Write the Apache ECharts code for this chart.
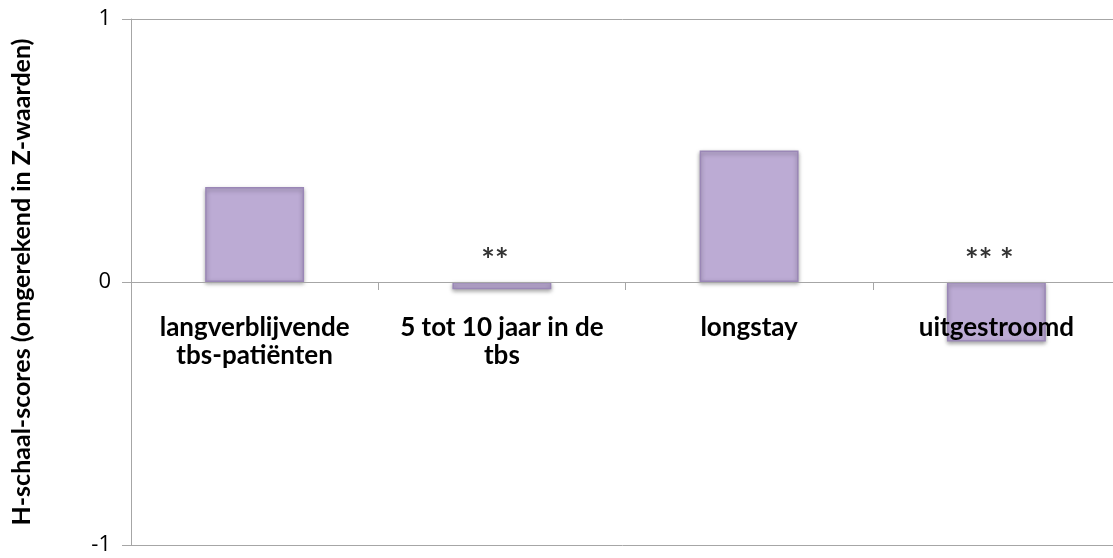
<!DOCTYPE html>
<html>
<head>
<meta charset="utf-8">
<script src="https://cdn.jsdelivr.net/npm/echarts@6/dist/echarts.min.js"></script>
<style>html,body{margin:0;padding:0;background:#fff}#c{width:1113px;height:558px}</style>
</head>
<body>
<div id="c"></div>
<script>
const categories = ['langverblijvende\ntbs-patiënten', '5 tot 10 jaar in de\ntbs', 'longstay', 'uitgestroomd'];
const values = [0.361, -0.028, 0.500, -0.226];
const annotations = ['', '**', '', '** *'];
const yTicks = [-1, 0, 1];

const chart = echarts.init(document.getElementById('c'));
chart.setOption({
  animation: false,
  grid: {left: 131, top: 19, width: 989, bottom: 13, containLabel: false, outerBoundsMode: 'none'},
  xAxis: {
    type: 'category',
    data: categories,
    z: 10,
    axisLine: {onZero: true, lineStyle: {color: '#a6a6a6', width: 1}},
    axisTick: {show: true, length: 8, lineStyle: {color: '#a6a6a6'}},
    axisLabel: {
      interval: 0, margin: -231, color: '#000', fontFamily: 'Lato', fontWeight: 'bold',
      fontSize: 26, lineHeight: 28
    }
  },
  yAxis: {
    type: 'value', min: -1, max: 1, interval: 1,
    name: 'H-schaal-scores (omgerekend in Z-waarden)',
    nameLocation: 'middle', nameRotate: 90, nameGap: 97,
    nameTextStyle: {fontFamily: 'Lato', fontWeight: 'bold', fontSize: 25, color: '#000'},
    axisLine: {show: true, lineStyle: {color: '#a6a6a6'}},
    axisTick: {show: true, length: 9, lineStyle: {color: '#a6a6a6'}},
    splitLine: {show: true, lineStyle: {color: '#a6a6a6'}},
    axisLabel: {
      margin: 20, color: '#000', fontFamily: 'Open Sans', fontSize: 22,
      formatter: v => yTicks.includes(v) ? String(v) : ''
    }
  },
  series: [
    {
      type: 'bar',
      data: values,
      barWidth: '40%',
      itemStyle: {
        color: '#bcabd4',
        borderColor: '#9a87b6',
        borderWidth: 1.5,
        shadowColor: 'rgba(0,0,0,0.35)',
        shadowBlur: 4,
        shadowOffsetY: 2
      }
    },
    {
      type: 'scatter',
      data: annotations.map((a, i) => [i, 0]),
      symbolSize: 0,
      silent: true,
      label: {
        show: true,
        position: 'top',
        distance: 4,
        offset: [-7, 0],
        color: '#000',
        fontFamily: 'Lato', fontWeight: 'bold', fontSize: 32,
        formatter: p => annotations[p.dataIndex]
      }
    }
  ]
});
</script>
</body>
</html>
